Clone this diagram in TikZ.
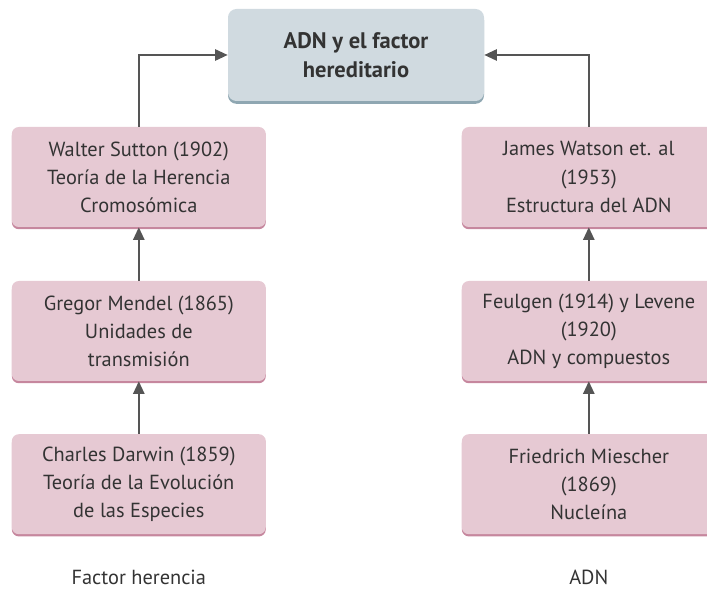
\documentclass[tikz,border=0pt]{standalone}
\usepackage{fontspec}
\setmainfont{PT Sans}
\usetikzlibrary{arrows.meta, calc}

\definecolor{pinkfill}{HTML}{E6C9D3}
\definecolor{pinkedge}{HTML}{C6879E}
\definecolor{bluefill}{HTML}{D0DAE0}
\definecolor{blueedge}{HTML}{8FA7B2}
\definecolor{textgray}{HTML}{333333}
\definecolor{arrowgray}{HTML}{555555}

\tikzset{
  eventbox/.style={rectangle, rounded corners=5pt, fill=pinkfill,
    preaction={fill=pinkedge, transform canvas={yshift=-1.6pt}},
    minimum width=6.35cm, minimum height=2.5cm, align=center,
    text=textgray, font=\fontsize{14.5}{20}\selectfont},
  titlebox/.style={rectangle, rounded corners=6pt, fill=bluefill,
    preaction={fill=blueedge, transform canvas={yshift=-2pt}},
    minimum width=6.4cm, minimum height=2.3cm, align=center,
    text=textgray, font=\fontsize{16}{21}\selectfont\bfseries},
  caption/.style={text=textgray, font=\fontsize{14.5}{20}\selectfont},
  link/.style={draw=arrowgray, line width=1.4pt,
    -{Triangle[length=9pt, width=8pt]}}
}

\begin{document}
\begin{tikzpicture}

% Fix the frame of the picture
\useasboundingbox (0,0) rectangle (17.675,14.725);
\clip (0,0) rectangle (17.675,14.725);

% The central topic
\node[titlebox] (title) at (8.9,13.35) {ADN y el factor\\hereditario};

% Left column: factor herencia
\node[eventbox] (sutton) at (3.47,10.3) {Walter Sutton (1902)\\Teoría de la Herencia\\Cromosómica};
\node[eventbox] (mendel) at (3.47,6.45) {Gregor Mendel (1865)\\Unidades de\\transmisión};
\node[eventbox] (darwin) at (3.47,2.62) {Charles Darwin (1859)\\Teoría de la Evolución\\de las Especies};

% Right column: ADN
\node[eventbox] (watson) at (14.72,10.3) {James Watson et. al\\(1953)\\Estructura del ADN};
\node[eventbox] (feulgen) at (14.72,6.45) {Feulgen (1914) y Levene\\(1920)\\ADN y compuestos};
\node[eventbox] (miescher) at (14.72,2.62) {Friedrich Miescher\\(1869)\\Nucleína};

% Column captions
\node[caption] (herencia) at (3.47,0.3) {Factor herencia};
\node[caption] (adn) at (14.72,0.3) {ADN};

% Arrows up the columns
\draw[link] (darwin) -- (mendel);
\draw[link] (mendel) -- (sutton);
\draw[link] (miescher) -- (feulgen);
\draw[link] (feulgen) -- (watson);

% Arrows into the topic
\draw[link] (sutton.north) |- (title.west);
\draw[link] (watson.north) |- (title.east);

\end{tikzpicture}
\end{document}
